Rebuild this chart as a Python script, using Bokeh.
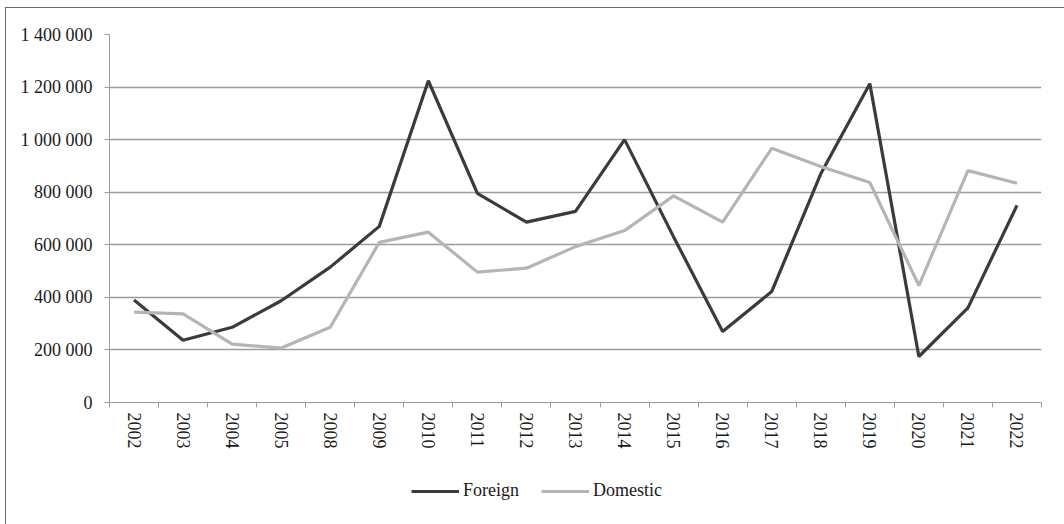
from bokeh.plotting import figure
from bokeh.layouts import column
from bokeh.models import (FixedTicker, CustomJSTickFormatter, Legend, LegendItem,
                          Range1d, ColumnDataSource)
from bokeh.embed import file_html
from bokeh.resources import INLINE

years = ["2002", "2003", "2004", "2005", "2008", "2009", "2010", "2011", "2012", "2013",
         "2014", "2015", "2016", "2017", "2018", "2019", "2020", "2021", "2022"]
foreign = [390000, 237000, 286000, 387000, 515000, 670000, 1224000, 796000, 686000, 727000,
           1000000, 630000, 270000, 422000, 870000, 1213000, 175000, 360000, 750000]
domestic = [344000, 337000, 222000, 207000, 286000, 609000, 648000, 496000, 511000, 593000,
            654000, 786000, 686000, 967000, 898000, 837000, 445000, 882000, 834000]
y_ticks = [0, 200000, 400000, 600000, 800000, 1000000, 1200000, 1400000]

FONT = "Liberation Serif"
GRID = "#9c9c9c"
C_F = "#3b3b3b"
C_D = "#b5b5b5"

xs = [i + 0.5 for i in range(len(years))]
src = ColumnDataSource(dict(x=xs, year=years, foreign=foreign, domestic=domestic))

# layout placed at (5, 7) of the page
W = 1059
L, T = 103, 26
FW, FH = 932, 368
B = 60
H = T + FH + B

p = figure(width=W, height=H, output_backend="svg", toolbar_location=None,
           x_range=Range1d(0, len(years)), y_range=Range1d(0, 1400000),
           min_border_left=L, min_border_top=T,
           min_border_right=W - L - FW, min_border_bottom=B)
p.outline_line_color = None
p.background_fill_color = "white"
p.border_fill_color = "white"

# y axis
ya = p.yaxis[0]
ya.ticker = FixedTicker(ticks=y_ticks, minor_ticks=[])
ya.formatter = CustomJSTickFormatter(
    code=r"return tick.toFixed(0).replace(/\B(?=(\d{3})+(?!\d))/g, ' ');")
ya.axis_line_color = GRID
ya.major_tick_line_color = GRID
ya.major_tick_in = 0
ya.major_tick_out = 5
ya.minor_tick_line_color = None
ya.major_label_standoff = 12
ya.major_label_text_font = FONT
ya.major_label_text_font_size = "18px"
ya.major_label_text_color = "#1a1a1a"

# x axis
xa = p.xaxis[0]
xa.ticker = FixedTicker(ticks=xs, minor_ticks=list(range(len(years) + 1)))
xa.formatter = CustomJSTickFormatter(args=dict(years=years),
                                     code="return years[Math.floor(tick)];")
xa.axis_line_color = GRID
xa.major_tick_line_color = None
xa.major_tick_in = 0
xa.major_tick_out = 5
xa.minor_tick_line_color = GRID
xa.minor_tick_in = 0
xa.minor_tick_out = 5
xa.major_label_orientation = "vertical"
xa.major_label_standoff = 5
xa.major_label_text_font = FONT
xa.major_label_text_font_size = "18px"
xa.major_label_text_color = "#1a1a1a"

p.xgrid.grid_line_color = None
p.ygrid.ticker = FixedTicker(ticks=y_ticks)
p.ygrid.grid_line_color = GRID
p.ygrid.grid_line_width = 1.4

p.line("x", "foreign", source=src, line_color=C_F, line_width=3.2)
p.line("x", "domestic", source=src, line_color=C_D, line_width=3.2)

# legend strip below the chart (same series; lines kept out of its view)
H2 = 524 - 7 - H
p2 = figure(width=W, height=H2, output_backend="svg", toolbar_location=None,
            x_axis_type=None, y_axis_type=None,
            x_range=Range1d(0, len(years)), y_range=Range1d(-2, -1),
            min_border=0)
p2.outline_line_color = None
p2.background_fill_color = "white"
p2.border_fill_color = "white"
p2.grid.visible = False
lf = p2.line("x", "foreign", source=src, line_color=C_F, line_width=3.2)
ld = p2.line("x", "domestic", source=src, line_color=C_D, line_width=3.2)

legend = Legend(items=[LegendItem(label="Foreign", renderers=[lf]),
                       LegendItem(label="Domestic", renderers=[ld])],
                orientation="horizontal", location=(302, H2 - 39),
                glyph_width=48, glyph_height=20, label_standoff=4, spacing=22,
                padding=0, margin=0, border_line_color=None, background_fill_alpha=0,
                label_text_font=FONT, label_text_font_size="18px",
                label_text_color="#1a1a1a")
p2.add_layout(legend)

layout = column(p, p2, spacing=0)
layout.margin = (7, 0, 0, 5)
layout.styles = {"border-top": "1px solid #6a6a6a", "border-left": "1px solid #6a6a6a"}

open("out.html", "w").write(file_html(layout, INLINE))
